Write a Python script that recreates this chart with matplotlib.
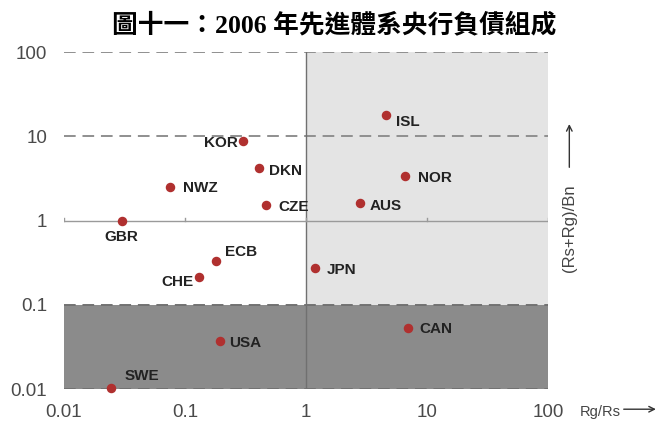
import matplotlib.pyplot as plt
from matplotlib.patches import Rectangle

# central bank balance sheet composition, 2006
countries = ["ISL", "KOR", "DKN", "NWZ", "CZE", "AUS", "NOR", "GBR",
             "ECB", "CHE", "JPN", "CAN", "USA", "SWE"]
rg_rs = [4.6, 0.30, 0.41, 0.075, 0.47, 2.8, 6.6, 0.030,
         0.18, 0.13, 1.18, 6.9, 0.195, 0.0245]
rs_rg_bn = [18.0, 8.8, 4.2, 2.5, 1.55, 1.6, 3.4, 0.99,
            0.335, 0.215, 0.275, 0.053, 0.037, 0.0102]
ticks = [0.01, 0.1, 1, 10, 100]
tick_labels = ["0.01", "0.1", "1", "10", "100"]

# label offsets in points (dx, dy, ha)
offsets = {
    "ISL": (7, -5, "left"), "KOR": (-3.5, -1.5, "right"), "DKN": (7, -2, "left"),
    "NWZ": (9.5, -0.5, "left"), "CZE": (8.5, -1.5, "left"), "AUS": (7, -2, "left"),
    "NOR": (9.5, -1.5, "left"), "GBR": (0, -11.5, "center"), "ECB": (6.5, 6, "left"),
    "CHE": (-3.5, -3.5, "right"), "JPN": (8.5, -1.5, "left"), "CAN": (8.5, -0.7, "left"),
    "USA": (6.5, -1.5, "left"), "SWE": (9.5, 9, "left"),
}

fig = plt.figure(figsize=(6.62, 4.21), dpi=100)
ax = fig.add_axes([0.0967, 0.076, 0.7313, 0.800])
ax.set_xscale("log")
ax.set_yscale("log")
ax.set_xlim(0.01, 100)
ax.set_ylim(0.01, 100)
for s in ax.spines.values():
    s.set_visible(False)

# shaded regions
ax.add_patch(Rectangle((1, 0.1), 99, 99.9, facecolor="#e4e4e4", edgecolor="none", zorder=0))
ax.add_patch(Rectangle((0.01, 0.01), 99.99, 0.09, facecolor="#8b8b8b", edgecolor="none", zorder=0))

for yv in [100, 10, 0.1, 0.01]:
    ax.axhline(yv, color="#8f8f8f" if yv > 1 else "#727272", lw=1.4,
               dashes=(6, 3.5), zorder=1)
ax.axvline(1, color="#707070", lw=1.0, zorder=1)
ax.axhline(1, color="#9a9a9a", lw=1.0, zorder=1)
for xv in ticks:
    ax.plot([xv, xv], [1, 1.07], color="#9a9a9a", lw=1.0, zorder=1)

ax.scatter(rg_rs, rs_rg_bn, s=34, color="#b0302f", zorder=3, clip_on=False)
for name, x, y in zip(countries, rg_rs, rs_rg_bn):
    dx, dy, ha = offsets[name]
    ax.annotate(name, (x, y), xytext=(dx, dy), textcoords="offset points",
                ha=ha, va="center", fontsize=11, fontweight="bold",
                family="Liberation Sans", color="#222222", zorder=4)

ax.set_xticks(ticks)
ax.set_yticks(ticks)
ax.set_xticklabels(tick_labels)
ax.set_yticklabels(tick_labels)
ax.minorticks_off()
ax.tick_params(length=0, labelsize=13.5, labelcolor="#4a4a4a")
ax.tick_params(axis="y", pad=12)
ax.tick_params(axis="x", pad=11)
for lab in ax.get_xticklabels() + ax.get_yticklabels():
    lab.set_family("Liberation Sans")

fig.text(0.505, 0.938, "圖十一：2006 年先進體系央行負債組成", ha="center", va="center",
         fontsize=18.5, fontweight="bold",
         family=["Liberation Serif", "Noto Sans CJK TC"])

fig.text(0.860, 0.459, "(Rs+Rg)/Bn", rotation=90, ha="center", va="center",
         fontsize=12, family="Liberation Sans", color="#444444")
fig.add_artist(plt.Annotation("", xy=(0.860, 0.712), xytext=(0.860, 0.596),
                              xycoords="figure fraction",
                              arrowprops=dict(arrowstyle="->", color="#333333", lw=1.0)))
fig.text(0.876, 0.022, "Rg/Rs", ha="left", va="center",
         fontsize=10.5, family="Liberation Sans", color="#444444")
fig.add_artist(plt.Annotation("", xy=(0.995, 0.028), xytext=(0.938, 0.028),
                              xycoords="figure fraction",
                              arrowprops=dict(arrowstyle="->", color="#333333", lw=1.0)))

fig.savefig("out.png", dpi=100)
